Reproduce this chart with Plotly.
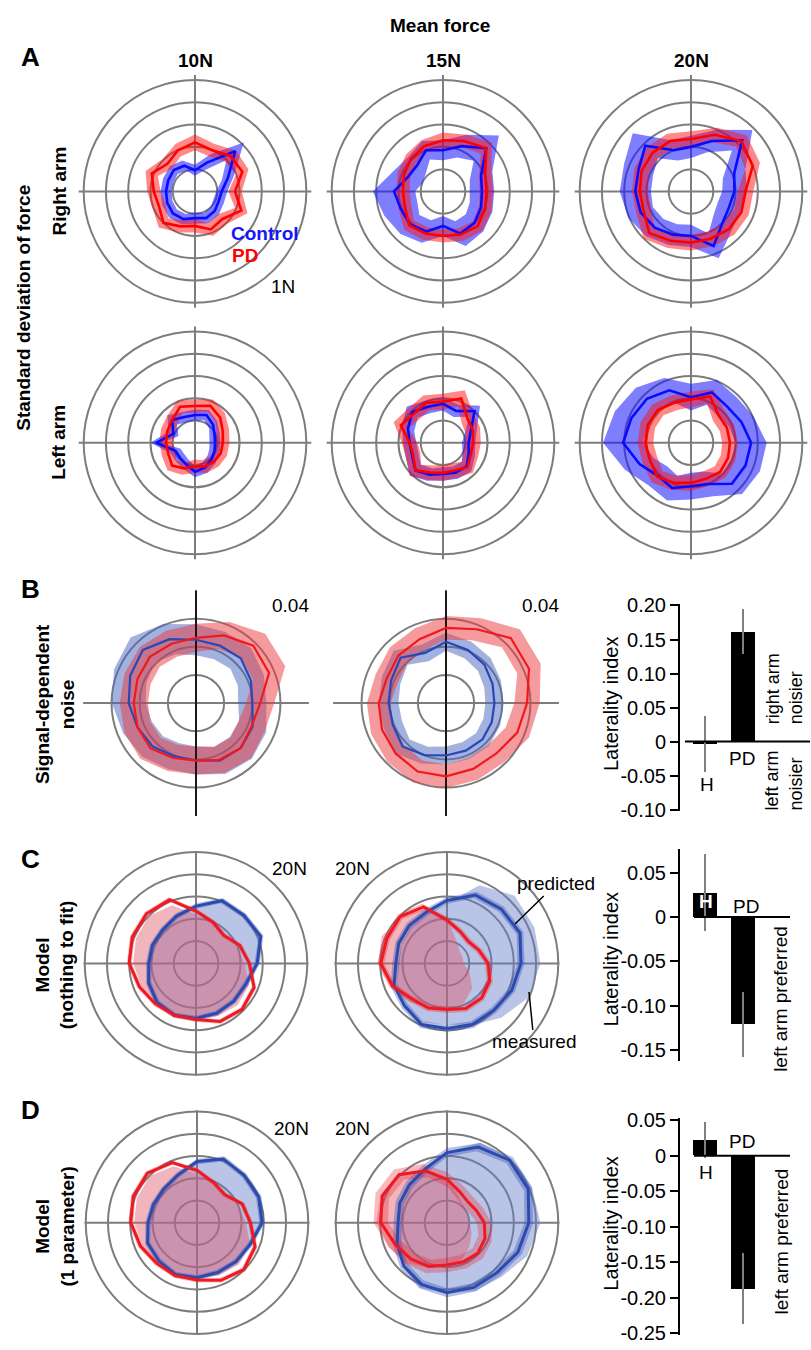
import plotly.graph_objects as go

W, H = 811, 1350
FONT = "Liberation Sans, Arial, Helvetica, sans-serif"

# force directions (deg, counter-clockwise from right)
DIRECTIONS = [0, 22.5, 45, 67.5, 90, 112.5, 135, 157.5, 180, 202.5, 225, 247.5, 270, 292.5, 315, 337.5]

# ---------------- Panel A : SD of force (N) ----------------
# right arm
A_R10_CTRL = [0.24, 0.32, 0.51, 0.28, 0.19, 0.25, 0.27, 0.26, 0.26, 0.27, 0.28, 0.27, 0.24, 0.26, 0.25, 0.23]
A_R10_CTRL_ERR = [0.05, 0.06, 0.11, 0.08, 0.05, 0.05, 0.05, 0.05, 0.05, 0.05, 0.05, 0.05, 0.05, 0.05, 0.05, 0.05]
A_R10_PD = [0.36, 0.46, 0.45, 0.40, 0.44, 0.40, 0.35, 0.42, 0.37, 0.35, 0.40, 0.34, 0.31, 0.37, 0.35, 0.45]
A_R10_PD_ERR = [0.06, 0.06, 0.07, 0.06, 0.07, 0.06, 0.06, 0.06, 0.06, 0.06, 0.06, 0.06, 0.06, 0.06, 0.06, 0.06]

A_R15_CTRL = [0.35, 0.37, 0.55, 0.44, 0.37, 0.40, 0.33, 0.34, 0.44, 0.41, 0.42, 0.39, 0.31, 0.41, 0.40, 0.37]
A_R15_CTRL_ERR = [0.11, 0.11, 0.16, 0.11, 0.09, 0.09, 0.11, 0.14, 0.19, 0.16, 0.12, 0.11, 0.09, 0.12, 0.11, 0.11]
A_R15_PD = [0.39, 0.41, 0.55, 0.49, 0.46, 0.44, 0.41, 0.38, 0.36, 0.37, 0.43, 0.41, 0.40, 0.42, 0.44, 0.41]
A_R15_PD_ERR = [0.06, 0.06, 0.07, 0.06, 0.07, 0.06, 0.06, 0.06, 0.06, 0.06, 0.06, 0.06, 0.06, 0.06, 0.06, 0.06]

A_R20_CTRL = [0.39, 0.42, 0.65, 0.49, 0.40, 0.40, 0.58, 0.51, 0.50, 0.49, 0.46, 0.42, 0.40, 0.53, 0.40, 0.37]
A_R20_CTRL_ERR = [0.11, 0.11, 0.13, 0.11, 0.10, 0.10, 0.16, 0.14, 0.14, 0.12, 0.11, 0.10, 0.10, 0.12, 0.11, 0.11]
A_R20_PD = [0.49, 0.60, 0.64, 0.55, 0.47, 0.49, 0.49, 0.48, 0.46, 0.46, 0.53, 0.48, 0.46, 0.46, 0.48, 0.49]
A_R20_PD_ERR = [0.07, 0.07, 0.07, 0.07, 0.07, 0.07, 0.07, 0.07, 0.07, 0.07, 0.07, 0.07, 0.07, 0.07, 0.07, 0.07]

# left arm
A_L10_CTRL = [0.18, 0.19, 0.23, 0.27, 0.25, 0.25, 0.29, 0.21, 0.35, 0.19, 0.19, 0.21, 0.26, 0.24, 0.21, 0.19]
A_L10_CTRL_ERR = [0.05, 0.05, 0.05, 0.05, 0.05, 0.05, 0.06, 0.05, 0.05, 0.05, 0.05, 0.05, 0.05, 0.05, 0.05, 0.05]
A_L10_PD = [0.25, 0.27, 0.32, 0.36, 0.33, 0.35, 0.29, 0.27, 0.26, 0.26, 0.29, 0.25, 0.21, 0.23, 0.24, 0.25]
A_L10_PD_ERR = [0.06, 0.06, 0.06, 0.06, 0.06, 0.06, 0.06, 0.06, 0.06, 0.06, 0.06, 0.06, 0.06, 0.06, 0.06, 0.06]

A_L15_CTRL = [0.23, 0.27, 0.40, 0.31, 0.35, 0.35, 0.39, 0.34, 0.30, 0.30, 0.35, 0.31, 0.28, 0.29, 0.30, 0.25]
A_L15_CTRL_ERR = [0.06, 0.06, 0.07, 0.06, 0.06, 0.06, 0.07, 0.06, 0.06, 0.06, 0.07, 0.06, 0.06, 0.06, 0.06, 0.06]
A_L15_PD = [0.27, 0.29, 0.31, 0.43, 0.37, 0.39, 0.37, 0.41, 0.30, 0.29, 0.35, 0.29, 0.27, 0.27, 0.31, 0.27]
A_L15_PD_ERR = [0.07, 0.07, 0.07, 0.08, 0.07, 0.07, 0.07, 0.07, 0.07, 0.07, 0.07, 0.07, 0.07, 0.07, 0.07, 0.07]

A_L20_CTRL = [0.54, 0.49, 0.46, 0.49, 0.41, 0.51, 0.56, 0.58, 0.61, 0.50, 0.42, 0.44, 0.39, 0.40, 0.52, 0.53]
A_L20_CTRL_ERR = [0.14, 0.12, 0.12, 0.12, 0.12, 0.12, 0.14, 0.16, 0.18, 0.14, 0.12, 0.12, 0.12, 0.12, 0.13, 0.14]
A_L20_PD = [0.35, 0.35, 0.35, 0.45, 0.39, 0.39, 0.42, 0.42, 0.41, 0.40, 0.43, 0.39, 0.36, 0.35, 0.37, 0.36]
A_L20_PD_ERR = [0.07, 0.07, 0.07, 0.07, 0.07, 0.07, 0.07, 0.07, 0.07, 0.07, 0.07, 0.07, 0.07, 0.07, 0.07, 0.07]

# ---------------- Panel B : signal-dependent noise ----------------
B1_CTRL = [0.0200, 0.0211, 0.0225, 0.0221, 0.0225, 0.0246, 0.0267, 0.0253, 0.0239, 0.0225, 0.0218, 0.0204, 0.0204, 0.0221, 0.0225, 0.0218]
B1_CTRL_ERR = [0.0050, 0.0050, 0.0052, 0.0052, 0.0055, 0.0058, 0.0062, 0.0062, 0.0060, 0.0055, 0.0052, 0.0050, 0.0050, 0.0052, 0.0055, 0.0052]
B1_PD = [0.0228, 0.0281, 0.0288, 0.0260, 0.0232, 0.0228, 0.0232, 0.0225, 0.0221, 0.0225, 0.0228, 0.0211, 0.0204, 0.0218, 0.0225, 0.0214]
B1_PD_ERR = [0.0050, 0.0062, 0.0060, 0.0052, 0.0050, 0.0050, 0.0050, 0.0050, 0.0050, 0.0050, 0.0052, 0.0050, 0.0050, 0.0050, 0.0052, 0.0050]

B2_CTRL = [0.0172, 0.0179, 0.0193, 0.0204, 0.0218, 0.0193, 0.0228, 0.0211, 0.0204, 0.0204, 0.0218, 0.0200, 0.0186, 0.0183, 0.0183, 0.0176]
B2_CTRL_ERR = [0.0032, 0.0032, 0.0032, 0.0032, 0.0032, 0.0032, 0.0035, 0.0035, 0.0035, 0.0035, 0.0035, 0.0032, 0.0032, 0.0032, 0.0032, 0.0032]
B2_PD = [0.0288, 0.0319, 0.0326, 0.0284, 0.0267, 0.0246, 0.0239, 0.0228, 0.0239, 0.0246, 0.0253, 0.0263, 0.0260, 0.0253, 0.0253, 0.0274]
B2_PD_ERR = [0.0045, 0.0045, 0.0045, 0.0042, 0.0042, 0.0042, 0.0042, 0.0042, 0.0042, 0.0042, 0.0042, 0.0042, 0.0042, 0.0042, 0.0042, 0.0045]

# ---------------- Panel C : model, nothing to fit (20N) ----------------
C1_CTRL_MEAS = [11.3, 12.7, 12.4, 12.2, 10.3, 9.2, 8.5, 8.5, 8.5, 9.6, 10.3, 10.3, 9.9, 9.7, 9.9, 10.1]
C1_CTRL_PRED = [11.0, 12.6, 12.2, 12.2, 10.3, 9.2, 8.5, 8.5, 8.5, 9.2, 9.9, 10.1, 9.9, 9.7, 9.6, 9.7]
C1_PD_MEAS = [8.8, 8.0, 7.1, 8.0, 8.8, 11.3, 12.0, 11.7, 11.3, 10.6, 9.9, 9.7, 9.9, 10.3, 10.6, 10.3]
C1_PD_PRED = [9.6, 8.5, 7.1, 8.0, 9.4, 12.4, 12.6, 12.4, 12.0, 11.0, 10.3, 10.1, 10.1, 11.3, 11.7, 11.3]

C2_CTRL_MEAS = [16.8, 17.0, 17.2, 15.2, 10.8, 9.6, 9.2, 8.8, 8.8, 9.7, 11.0, 11.5, 11.0, 12.0, 13.8, 15.9]
C2_CTRL_PRED = [13.3, 14.2, 13.8, 13.3, 11.3, 9.9, 9.6, 9.4, 9.2, 10.3, 10.8, 11.9, 11.7, 11.9, 11.9, 12.6]
C2_PD_MEAS = [3.0, 3.0, 3.2, 4.4, 8.3, 10.6, 11.7, 12.7, 12.4, 11.0, 9.7, 8.8, 8.0, 7.8, 6.4, 4.4]
C2_PD_PRED = [7.4, 6.2, 5.5, 6.2, 7.8, 11.0, 11.9, 11.7, 11.9, 10.6, 9.0, 8.7, 8.3, 8.8, 8.8, 8.3]

# ---------------- Panel D : model, 1 parameter (20N) ----------------
D1_CTRL_MEAS = [11.9, 12.4, 12.4, 12.4, 11.0, 9.2, 8.5, 8.3, 8.5, 9.2, 9.4, 9.9, 9.9, 9.7, 9.7, 10.6]
D1_CTRL_PRED = [11.7, 12.0, 12.0, 12.4, 11.0, 9.2, 8.5, 8.5, 8.8, 9.6, 9.7, 10.1, 9.9, 9.7, 9.9, 10.3]
D1_PD_MEAS = [8.8, 8.1, 7.1, 7.8, 8.8, 11.0, 11.9, 11.7, 11.3, 10.6, 10.1, 9.9, 9.9, 10.3, 10.6, 10.3]
D1_PD_PRED = [9.6, 8.8, 7.1, 7.8, 9.4, 11.7, 12.6, 12.4, 11.9, 11.0, 10.3, 10.3, 10.3, 11.2, 11.9, 11.3]

D2_CTRL_MEAS = [16.8, 16.5, 16.3, 15.6, 12.7, 10.6, 9.7, 9.2, 8.8, 9.9, 11.2, 12.7, 12.7, 13.3, 13.8, 15.6]
D2_CTRL_PRED = [14.7, 15.8, 15.9, 14.7, 12.6, 10.4, 9.6, 9.2, 8.8, 9.7, 11.0, 12.0, 12.6, 12.6, 12.7, 13.8]
D2_PD_MEAS = [4.1, 3.9, 4.2, 5.3, 7.8, 10.3, 12.4, 12.9, 12.7, 11.3, 10.3, 8.8, 7.8, 7.1, 5.8, 4.8]
D2_PD_PRED = [6.7, 5.7, 5.3, 6.0, 7.8, 10.1, 12.2, 12.6, 11.9, 10.1, 9.2, 8.5, 7.6, 7.6, 7.8, 7.4]

# ---------------- Laterality index bars ----------------
GROUPS = ["H", "PD"]
B_LI = [-0.003, 0.162]
B_LI_UP = [0.040, 0.033]
B_LI_DN = [0.042, 0.034]
C_LI = [0.027, -0.121]
C_LI_UP = [0.044, 0.037]
C_LI_DN = [0.043, 0.037]
D_LI = [0.022, -0.188]
D_LI_UP = [0.026, 0.051]
D_LI_DN = [0.025, 0.049]

# ---------------- styles ----------------
GRID = "rgb(125,125,125)"
A_BLUE, A_BLUE_F = "rgb(10,10,255)", "rgba(20,20,255,0.55)"
A_RED, A_RED_F = "rgb(255,0,0)", "rgba(255,20,20,0.5)"
B_BLUE, B_BLUE_F = "rgb(40,72,185)", "rgba(70,100,190,0.5)"
B_RED, B_RED_F = "rgb(240,25,30)", "rgba(235,55,60,0.5)"
M_BLUE_FILL = "rgba(100,125,200,0.45)"
M_RED_FILL = "rgba(225,90,110,0.45)"
P_BLUE, P_BLUE_BAND = "rgb(45,75,175)", "rgba(45,75,175,0.35)"
P_RED, P_RED_BAND = "rgb(238,25,35)", "rgba(238,25,35,0.3)"

fig = go.Figure()
TH = DIRECTIONS + [360]


def closed(v):
    return list(v) + [v[0]]


def band(sub, mean, err, fill):
    hi = closed([m + e for m, e in zip(mean, err)])
    lo = closed([max(m - e, 0) for m, e in zip(mean, err)])
    fig.add_trace(go.Scatterpolar(r=hi + lo[::-1], theta=TH + TH[::-1], mode="lines", fill="toself",
                                  fillcolor=fill, line=dict(width=0), subplot=sub, hoverinfo="skip"))


def line(sub, vals, color, width):
    fig.add_trace(go.Scatterpolar(r=closed(vals), theta=TH, mode="lines",
                                  line=dict(color=color, width=width), subplot=sub, hoverinfo="skip"))


def area(sub, vals, fill):
    fig.add_trace(go.Scatterpolar(r=closed(vals), theta=TH, mode="lines", fill="toself",
                                  fillcolor=fill, line=dict(width=0), subplot=sub, hoverinfo="skip"))


layout_polars = {}


def polar(sub, cx, cy, half, rmax, rings):
    layout_polars[sub] = dict(
        domain=dict(x=[(cx - half) / W, (cx + half) / W], y=[1 - (cy + half) / H, 1 - (cy - half) / H]),
        bgcolor="rgba(0,0,0,0)",
        radialaxis=dict(range=[0, rmax], tickmode="array", tickvals=rings, showticklabels=False, ticks="",
                        showline=False, gridcolor=GRID, gridwidth=1.6),
        angularaxis=dict(tickmode="array", tickvals=[0, 90, 180, 270], showticklabels=False, ticks="",
                         showline=False, gridcolor=GRID, gridwidth=1.6, rotation=0, direction="counterclockwise"),
    )


# Panel A polars
A_RINGS = [0.2, 0.4, 0.6, 0.8, 1.0]
A_SETS = [
    ("polar", 195, 185, A_R10_CTRL, A_R10_CTRL_ERR, A_R10_PD, A_R10_PD_ERR),
    ("polar2", 443, 185, A_R15_CTRL, A_R15_CTRL_ERR, A_R15_PD, A_R15_PD_ERR),
    ("polar3", 691, 185, A_R20_CTRL, A_R20_CTRL_ERR, A_R20_PD, A_R20_PD_ERR),
    ("polar4", 195, 440, A_L10_CTRL, A_L10_CTRL_ERR, A_L10_PD, A_L10_PD_ERR),
    ("polar5", 443, 440, A_L15_CTRL, A_L15_CTRL_ERR, A_L15_PD, A_L15_PD_ERR),
    ("polar6", 691, 440, A_L20_CTRL, A_L20_CTRL_ERR, A_L20_PD, A_L20_PD_ERR),
]
for sub, cx, cy, c, ce, p, pe in A_SETS:
    polar(sub, cx, cy, 118, 1.045, A_RINGS)
    band(sub, c, ce, A_BLUE_F)
    band(sub, p, pe, A_RED_F)
    line(sub, c, A_BLUE, 2.6)
    line(sub, p, A_RED, 2.6)

# Panel B polars
B_RINGS = [0.01, 0.02, 0.03, 0.04]
for sub, cx, c, ce, p, pe in [("polar7", 196, B1_CTRL, B1_CTRL_ERR, B1_PD, B1_PD_ERR),
                              ("polar8", 446, B2_CTRL, B2_CTRL_ERR, B2_PD, B2_PD_ERR)]:
    polar(sub, cx, 704, 114.5, 0.0401, B_RINGS)
    band(sub, c, ce, B_BLUE_F)
    band(sub, p, pe, B_RED_F)
    fig.add_trace(go.Scatterpolar(r=[0.0401, 0, 0.0401], theta=[90, 0, 270], mode="lines",
                                  line=dict(color="black", width=1.6), subplot=sub, hoverinfo="skip"))
    line(sub, c, B_BLUE, 2.2)
    line(sub, p, B_RED, 2.2)

# Panels C, D polars
M_RINGS = [4, 8, 12, 16, 20]
M_SETS = [
    ("polar9", 196, 968, C1_CTRL_MEAS, C1_CTRL_PRED, C1_PD_MEAS, C1_PD_PRED, 0.5, 0.45),
    ("polar10", 447, 968, C2_CTRL_MEAS, C2_CTRL_PRED, C2_PD_MEAS, C2_PD_PRED, 0.65, 0.6),
    ("polar11", 197, 1231, D1_CTRL_MEAS, D1_CTRL_PRED, D1_PD_MEAS, D1_PD_PRED, 0.5, 0.45),
    ("polar12", 447, 1231, D2_CTRL_MEAS, D2_CTRL_PRED, D2_PD_MEAS, D2_PD_PRED, 0.8, 1.3),
]
for sub, cx, cy, cm, cp, pm, pp, cw, pw in M_SETS:
    polar(sub, cx, cy, 114, 20.2, M_RINGS)
    area(sub, cm, M_BLUE_FILL)
    area(sub, pm, M_RED_FILL)
    band(sub, cp, [cw] * len(cp), P_BLUE_BAND)
    band(sub, pp, [pw] * len(pp), P_RED_BAND)
    line(sub, cp, P_BLUE, 3)
    line(sub, pp, P_RED, 3)

# ---------------- bar charts ----------------
BAR_SETS = [
    ("x", "y", B_LI, B_LI_UP, B_LI_DN, [680, 810], [603, 813], [-0.1014, 0.2029],
     [-0.10, -0.05, 0, 0.05, 0.10, 0.15, 0.20], (685 - 680) / 130),
    ("x2", "y2", C_LI, C_LI_UP, C_LI_DN, [680, 790], [852, 1067], [-0.1622, 0.0767],
     [-0.15, -0.10, -0.05, 0, 0.05], (694 - 680) / 110),
    ("x3", "y3", D_LI, D_LI_UP, D_LI_DN, [680, 790], [1125, 1345], [-0.2528, 0.0528],
     [-0.25, -0.20, -0.15, -0.10, -0.05, 0, 0.05], (694 - 680) / 110),
]
axes_layout = {}
for i, (xa, ya, vals, up, dn, xdom, ydom, yr, ticks, z0) in enumerate(BAR_SETS):
    fig.add_trace(go.Bar(x=GROUPS, y=vals, width=0.63, marker=dict(color="black", line=dict(width=0)),
                         error_y=dict(type="data", symmetric=False, array=up, arrayminus=dn,
                                      color="rgb(128,128,128)", thickness=2.2, width=0),
                         xaxis=xa, yaxis=ya, hoverinfo="skip"))
    suffix = "" if i == 0 else str(i + 1)
    span = (xdom[1] - xdom[0]) / 38.0
    axes_layout["xaxis" + suffix] = dict(domain=[xdom[0] / W, xdom[1] / W], range=[-25 / 38, -25 / 38 + span],
                                         visible=False, type="category", anchor=ya)
    ttext = ["0" if t == 0 else f"{t:.2f}" for t in ticks]
    axes_layout["yaxis" + suffix] = dict(domain=[1 - ydom[1] / H, 1 - ydom[0] / H], range=yr,
                                         tickmode="array", tickvals=ticks, ticktext=ttext,
                                         ticks="outside", ticklen=8, tickwidth=2, tickcolor="black",
                                         showline=True, linecolor="black", linewidth=2,
                                         showgrid=False, zeroline=False, anchor=xa,
                                         tickfont=dict(family=FONT, size=20, color="black"))
    fig.add_shape(type="line", xref=xa + " domain", yref=ya, x0=z0, x1=1, y0=0, y1=0,
                  line=dict(color="black", width=2))


# ---------------- text ----------------
def note(text, x, y, size=19, color="black", bold=False, angle=0, xanchor="center", yanchor="middle",
         align="center"):
    fig.add_annotation(text=f"<b>{text}</b>" if bold else text, x=x / W, y=1 - y / H, xref="paper", yref="paper",
                       showarrow=False, font=dict(family=FONT, size=size, color=color), textangle=angle,
                       xanchor=xanchor, yanchor=yanchor, align=align)


note("Mean force", 440, 17, bold=True)
for t, x in [("10N", 195), ("15N", 443), ("20N", 691)]:
    note(t, x, 52, bold=True)
for t, y in [("A", 49), ("B", 588), ("C", 862), ("D", 1117)]:
    note(t, 30, y, size=26, bold=True)
note("Standard deviation of force", 24, 303, bold=True, angle=-90)
note("Right arm", 59, 185, bold=True, angle=-90)
note("Left arm", 59, 440, bold=True, angle=-90)
note("Control", 265, 228, bold=True, color="rgb(20,20,255)")
note("PD", 245, 250, bold=True, color="rgb(255,0,0)")
note("1N", 283, 281)
note("Signal-dependent<br>noise", 55, 705, bold=True, angle=-90)
note("Model<br>(nothing to fit)", 55, 970, bold=True, angle=-90)
note("Model<br>(1 parameter)", 55, 1235, bold=True, angle=-90)
note("0.04", 290, 605)
note("0.04", 540, 605)
for x, y in [(289, 872), (352, 872), (291, 1135), (352, 1135)]:
    note("20N", x, y)
for y in [705, 964, 1232]:
    note("Laterality index", 611, y, size=20, angle=-90)
note("H", 707, 787)
note("PD", 742, 760)
note("right arm<br>noisier", 784, 728, size=18, angle=-90, yanchor="bottom", align="left")
note("left arm<br>noisier", 784, 815, size=18, angle=-90, yanchor="bottom", align="left")
note("H", 706, 905, bold=True, color="white")
note("PD", 746, 910)
note("left arm preferred", 781, 1004, angle=-90)
note("H", 706, 1180)
note("PD", 742, 1149)
note("left arm preferred", 781, 1250, angle=-90)

# pointer labels
fig.add_annotation(text="predicted", x=515 / W, y=1 - 928 / H, xref="paper", yref="paper", showarrow=True,
                   arrowhead=0, arrowwidth=1.5, arrowcolor="black", ax=41, ay=-40, standoff=0,
                   font=dict(family=FONT, size=19, color="black"))
fig.add_annotation(text="measured", x=529 / W, y=1 - 997 / H, xref="paper", yref="paper", showarrow=True,
                   arrowhead=0, arrowwidth=1.5, arrowcolor="black", ax=5, ay=50, standoff=0,
                   font=dict(family=FONT, size=19, color="black"))

fig.update_layout(width=W, height=H, autosize=False, margin=dict(l=0, r=0, t=0, b=0),
                  paper_bgcolor="white", plot_bgcolor="rgba(0,0,0,0)", showlegend=False,
                  font=dict(family=FONT, size=19, color="black"), bargap=0,
                  **layout_polars, **axes_layout)

fig.write_html("out.html", config={"displayModeBar": False},
               post_script="document.body.style.margin='0px';document.body.style.padding='0px';"
                           "document.body.style.overflow='hidden';")
